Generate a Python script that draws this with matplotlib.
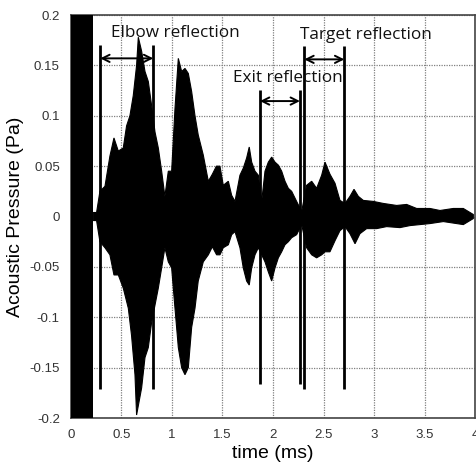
import numpy as np
import matplotlib
matplotlib.use("Agg")
import matplotlib.pyplot as plt

# ---- data ----
# saturated direct pulse
direct_t = [0.0, 0.222]
direct_amp = 0.25

# upper envelope of the recorded pressure
t_upper = [0.222, 0.254, 0.287, 0.337, 0.386, 0.426, 0.469, 0.518, 0.551, 0.584,
           0.617, 0.650, 0.667, 0.700, 0.733, 0.766, 0.799, 0.832, 0.865, 0.898,
           0.930, 0.964, 0.997, 1.030, 1.063, 1.096, 1.129, 1.162, 1.195, 1.228,
           1.260, 1.310, 1.360, 1.400, 1.440, 1.475, 1.508, 1.558, 1.591, 1.624,
           1.673, 1.706, 1.739, 1.765, 1.789, 1.822, 1.855, 1.888, 1.921, 1.954,
           1.987, 2.020, 2.053, 2.086, 2.119, 2.152, 2.185, 2.234, 2.284, 2.333,
           2.383, 2.432, 2.482, 2.515, 2.564, 2.614, 2.663, 2.713, 2.762, 2.802,
           2.845, 2.894, 2.993, 3.092, 3.224, 3.323, 3.422, 3.554, 3.653, 3.785,
           3.884, 3.983]
p_upper = [0.004, 0.004, 0.025, 0.030, 0.060, 0.078, 0.065, 0.068, 0.090, 0.100,
           0.120, 0.150, 0.178, 0.164, 0.144, 0.134, 0.110, 0.084, 0.068, 0.045,
           0.020, 0.045, 0.045, 0.107, 0.157, 0.144, 0.147, 0.142, 0.124, 0.100,
           0.081, 0.061, 0.035, 0.042, 0.050, 0.050, 0.031, 0.035, 0.021, 0.015,
           0.041, 0.048, 0.058, 0.069, 0.054, 0.045, 0.041, 0.015, 0.045, 0.054,
           0.059, 0.054, 0.051, 0.045, 0.035, 0.028, 0.025, 0.015, 0.005, 0.031,
           0.035, 0.028, 0.041, 0.054, 0.042, 0.033, 0.016, 0.013, 0.020, 0.027,
           0.020, 0.016, 0.015, 0.013, 0.011, 0.012, 0.008, 0.008, 0.006, 0.008,
           0.008, 0.002]

# lower envelope of the recorded pressure
t_lower = [0.222, 0.254, 0.287, 0.337, 0.386, 0.426, 0.469, 0.518, 0.568, 0.600,
           0.634, 0.650, 0.700, 0.733, 0.766, 0.799, 0.832, 0.865, 0.898, 0.930,
           0.964, 0.997, 1.030, 1.063, 1.096, 1.129, 1.162, 1.195, 1.228, 1.260,
           1.310, 1.360, 1.400, 1.442, 1.475, 1.508, 1.558, 1.591, 1.624, 1.673,
           1.706, 1.739, 1.765, 1.789, 1.822, 1.855, 1.888, 1.921, 1.954, 1.987,
           2.020, 2.053, 2.086, 2.119, 2.152, 2.185, 2.234, 2.284, 2.333, 2.383,
           2.432, 2.482, 2.515, 2.564, 2.614, 2.663, 2.713, 2.762, 2.812, 2.861,
           2.927, 3.026, 3.125, 3.257, 3.356, 3.455, 3.554, 3.686, 3.818, 3.884,
           3.983]
p_lower = [-0.004, -0.004, -0.025, -0.031, -0.038, -0.058, -0.058, -0.071, -0.091, -0.118,
           -0.157, -0.197, -0.170, -0.140, -0.130, -0.105, -0.088, -0.071, -0.051, -0.031,
           -0.045, -0.051, -0.091, -0.130, -0.150, -0.157, -0.150, -0.110, -0.091, -0.064,
           -0.045, -0.038, -0.030, -0.038, -0.038, -0.031, -0.028, -0.018, -0.015, -0.031,
           -0.051, -0.064, -0.068, -0.051, -0.038, -0.031, -0.038, -0.045, -0.055, -0.064,
           -0.051, -0.041, -0.035, -0.028, -0.025, -0.021, -0.018, -0.008, -0.031, -0.038,
           -0.041, -0.038, -0.035, -0.035, -0.024, -0.014, -0.010, -0.017, -0.027, -0.017,
           -0.012, -0.012, -0.010, -0.011, -0.009, -0.008, -0.007, -0.005, -0.007, -0.008,
           -0.002]

# reflection markers
marker_x = [0.290, 0.815, 1.871, 2.267, 2.310, 2.706]
marker_top = [0.170, 0.170, 0.126, 0.126, 0.169, 0.169]
marker_bottom = [-0.1716, -0.1716, -0.166, -0.166, -0.1716, -0.1716]

labels = ["Elbow reflection", "Exit reflection", "Target reflection"]
arrow_start = [0.290, 1.871, 2.310]
arrow_end = [0.815, 2.267, 2.706]
arrow_y = [0.157, 0.1146, 0.156]
label_x = [0.400, 1.600, 2.270]
label_y = [0.178, 0.1338, 0.176]

x_ticks = [0, 0.5, 1, 1.5, 2, 2.5, 3, 3.5, 4]
x_ticklabels = ["0", "0.5", "1", "1.5", "2", "2.5", "3", "3.5", "4"]
y_ticks = [-0.2, -0.15, -0.1, -0.05, 0, 0.05, 0.1, 0.15, 0.2]
y_ticklabels = ["-0.2", "-0.15", "-0.1", "-0.05", "0", "0.05", "0.1", "0.15", "0.2"]

# ---- figure ----
fig = plt.figure(figsize=(4.76, 4.70), dpi=100)
ax = fig.add_axes([0.149, 0.1106, 0.849, 0.8574])

ax.fill_between(direct_t, [-direct_amp] * 2, [direct_amp] * 2, color="black", lw=0, zorder=3)
ax.fill(np.concatenate([t_upper, t_lower[::-1]]),
        np.concatenate([p_upper, p_lower[::-1]]),
        color="black", lw=0.8, zorder=3)

ax.vlines(marker_x, marker_bottom, marker_top, color="black", lw=2.0, zorder=4)
for xs, xe, ya in zip(arrow_start, arrow_end, arrow_y):
    ax.annotate("", xy=(xe, ya), xytext=(xs, ya),
                arrowprops=dict(arrowstyle="<->", color="black", lw=1.4,
                                shrinkA=0, shrinkB=0, mutation_scale=13),
                zorder=5)
for lab, lx, ly in zip(labels, label_x, label_y):
    ax.text(lx, ly, lab, ha="left", va="baseline", fontsize=12.3,
            family="Open Sans", color="#111111", zorder=6)

ax.set_xlim(0, 4)
ax.set_ylim(-0.2, 0.2)
ax.set_xticks(x_ticks)
ax.set_xticklabels(x_ticklabels)
ax.set_yticks(y_ticks)
ax.set_yticklabels(y_ticklabels)
ax.tick_params(length=0, labelsize=9.5, labelcolor="#333333", pad=8)
for lab in ax.get_xticklabels() + ax.get_yticklabels():
    lab.set_family("Liberation Sans")

ax.grid(True, color="#808080", linestyle=(0, (1, 1)), linewidth=0.9)
ax.set_axisbelow(True)
for sp in ax.spines.values():
    sp.set_color("#444444")
    sp.set_linewidth(1.2)

ax.set_xlabel("time (ms)", fontsize=14, family="Liberation Sans", labelpad=3)
ax.set_ylabel("Acoustic Pressure (Pa)", fontsize=14, family="Liberation Sans", labelpad=4)

fig.savefig("out.png", dpi=100)
